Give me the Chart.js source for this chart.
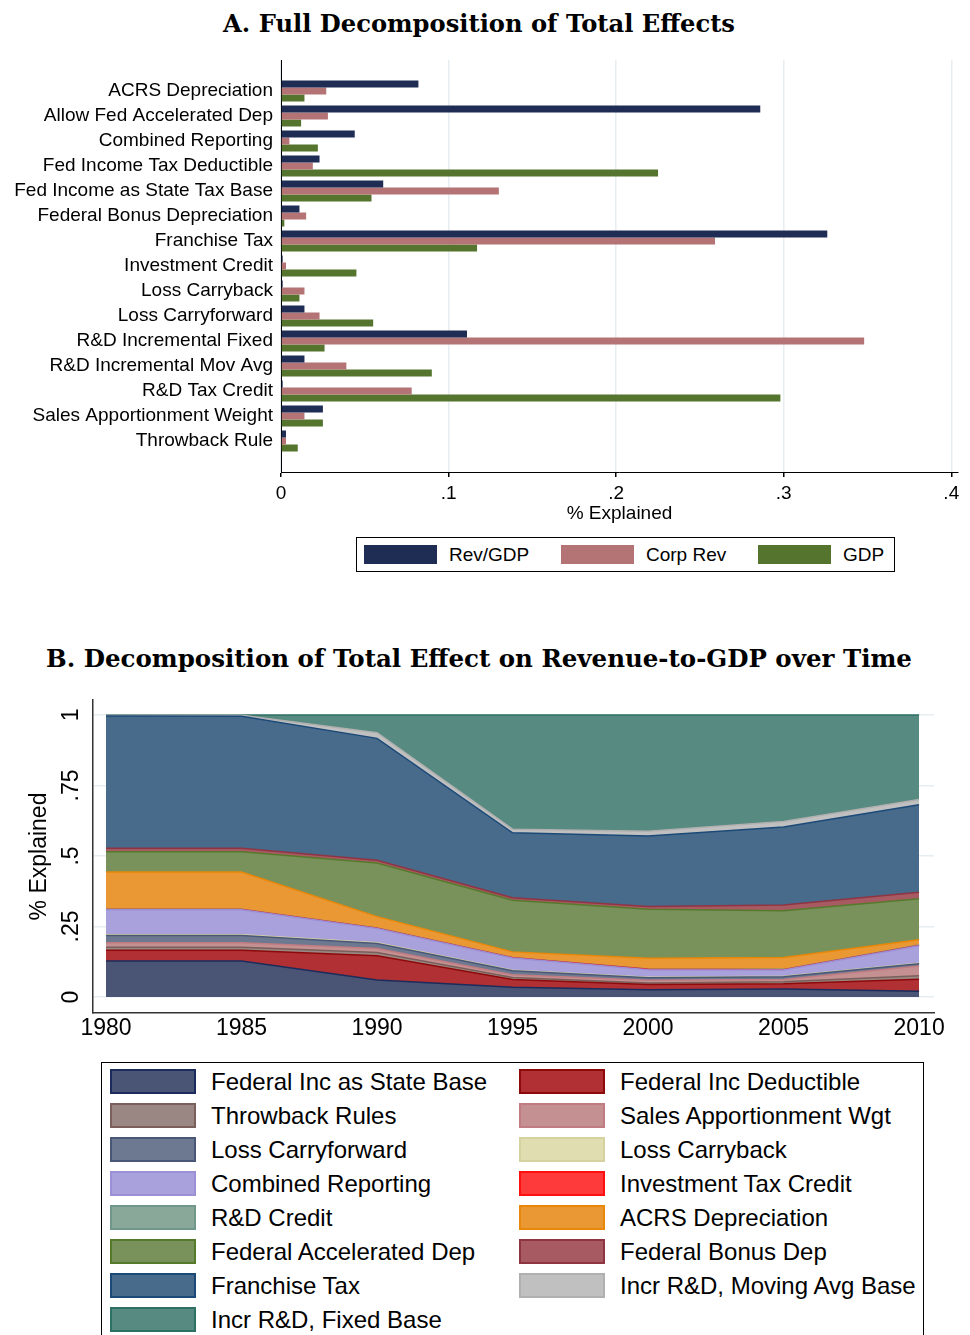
<!DOCTYPE html>
<html>
<head>
<meta charset="utf-8">
<script src="https://cdn.jsdelivr.net/npm/chart.js@4.4.1/dist/chart.umd.min.js"></script>
<style>
  body { margin: 0; width: 970px; height: 1335px; overflow: hidden; background: #fff;
         font-family: "Liberation Sans", Arial, sans-serif; color: #000; }
  .title { position: absolute; left: 0; width: 958px; text-align: center; white-space: nowrap;
           font-family: "DejaVu Serif", serif; font-weight: bold; line-height: 26px; }
  #boxA { position: absolute; left: 0; top: 0; }
  #boxB { position: absolute; left: 0; top: 680px; }
  .legend { position: absolute; border: 1px solid #000; box-sizing: border-box; background: #fff; }
  .item { position: absolute; white-space: nowrap; }
  .swatch { position: absolute; left: 0; box-sizing: border-box; }
  .label { position: absolute; }
</style>
</head>
<body>
<div class="title" id="titleA" style="top:11px">A. Full Decomposition of Total Effects</div>
<div id="boxA"><canvas id="chartA" width="970" height="530"></canvas></div>
<div class="legend" id="legendA" style="left:356px; top:537px; width:539px; height:35px"></div>

<div class="title" id="titleB" style="top:646px">B. Decomposition of Total Effect on Revenue-to-GDP over Time</div>
<div id="boxB"><canvas id="chartB" width="970" height="370"></canvas></div>
<div class="legend" id="legendB" style="left:101px; top:1062px; width:823px; height:320px"></div>

<script>
// ---- Panel A data ----
const effectCategories = ['ACRS Depreciation', 'Allow Fed Accelerated Dep', 'Combined Reporting',
  'Fed Income Tax Deductible', 'Fed Income as State Tax Base', 'Federal Bonus Depreciation',
  'Franchise Tax', 'Investment Credit', 'Loss Carryback', 'Loss Carryforward',
  'R&D Incremental Fixed', 'R&D Incremental Mov Avg', 'R&D Tax Credit',
  'Sales Apportionment Weight', 'Throwback Rule'];
const revGdp   = [0.082, 0.286, 0.044, 0.023, 0.061, 0.011, 0.326, 0.001, 0.001, 0.014, 0.111, 0.014, 0.001, 0.025, 0.003];
const corpRev  = [0.027, 0.028, 0.005, 0.019, 0.130, 0.015, 0.259, 0.003, 0.014, 0.023, 0.348, 0.039, 0.078, 0.014, 0.003];
const gdpShare = [0.014, 0.012, 0.022, 0.225, 0.054, 0.002, 0.117, 0.045, 0.011, 0.055, 0.026, 0.090, 0.298, 0.025, 0.010];
const effectTicks = [0, 0.1, 0.2, 0.3, 0.4];

// ---- Panel B data (share of each component, stacked to 1) ----
const years = [1980, 1985, 1990, 1995, 2000, 2005, 2010];
const fedIncStateBase   = [0.128, 0.128, 0.060, 0.035, 0.026, 0.028, 0.020];
const fedIncDeductible  = [0.038, 0.038, 0.086, 0.027, 0.018, 0.019, 0.043];
const throwbackRules    = [0.010, 0.010, 0.012, 0.007, 0.006, 0.007, 0.012];
const salesApportionWgt = [0.016, 0.016, 0.014, 0.010, 0.009, 0.008, 0.035];
const lossCarryforward  = [0.026, 0.026, 0.018, 0.014, 0.009, 0.010, 0.008];
const lossCarryback     = [0.003, 0.003, 0.002, 0.002, 0.002, 0.002, 0.002];
const combinedReporting = [0.088, 0.088, 0.051, 0.043, 0.027, 0.022, 0.062];
const investTaxCredit   = [0.001, 0.001, 0.001, 0.001, 0.001, 0.001, 0.001];
const rdCredit          = [0.001, 0.001, 0.001, 0.001, 0.001, 0.001, 0.001];
const acrsDepreciation  = [0.132, 0.132, 0.040, 0.020, 0.038, 0.042, 0.019];
const fedAccelDep       = [0.072, 0.072, 0.190, 0.183, 0.174, 0.166, 0.145];
const fedBonusDep       = [0.012, 0.012, 0.010, 0.009, 0.010, 0.020, 0.023];
const franchiseTax      = [0.469, 0.468, 0.432, 0.230, 0.250, 0.277, 0.311];
const incrRdMovAvg      = [0.003, 0.004, 0.020, 0.013, 0.017, 0.019, 0.018];
const incrRdFixed       = [0.001, 0.001, 0.063, 0.405, 0.412, 0.378, 0.300];
const timeTicksY = [0, 0.25, 0.5, 0.75, 1];
const timeTicksX = [1980, 1985, 1990, 1995, 2000, 2005, 2010];

const fmtDec = v => v === 0 ? '0' : String(v).replace(/^0/, '');

// fit serif titles to the width they take in the original
function fitTitle(id, target) {
  const el = document.getElementById(id);
  const c = document.createElement('canvas').getContext('2d');
  c.font = 'bold 20px "DejaVu Serif"';
  const w = c.measureText(el.textContent).width;
  el.style.fontSize = (20 * target / w).toFixed(2) + 'px';
}
fitTitle('titleA', 512);
fitTitle('titleB', 866);

// ---- Panel A: horizontal grouped bars ----
const barSeries = [
  { label: 'Rev/GDP',  data: revGdp,   color: '#1f2d55' },
  { label: 'Corp Rev', data: corpRev,  color: '#b47374' },
  { label: 'GDP',      data: gdpShare, color: '#55742e' }
];

const chartA = new Chart(document.getElementById('chartA'), {
  type: 'bar',
  data: {
    datasets: barSeries.map(s => ({
      label: s.label,
      data: s.data.map((v, i) => ({ x: v, y: i })),
      backgroundColor: s.color,
      borderWidth: 0,
      categoryPercentage: 0.84,
      barPercentage: 1
    }))
  },
  options: {
    indexAxis: 'y',
    responsive: false,
    animation: false,
    layout: { padding: { top: 60, right: 12, left: 0, bottom: 0 } },
    plugins: { legend: { display: false }, tooltip: { enabled: false } },
    scales: {
      y: {
        type: 'linear',
        reverse: true,
        offset: false,
        min: -1.24,
        max: 15.24,
        afterBuildTicks: s => { s.ticks = effectCategories.map((_, i) => ({ value: i })); },
        afterFit: s => { s.width = 281; },
        grid: { display: false, drawTicks: false, offset: false },
        border: { display: true, color: '#000', width: 1 },
        ticks: {
          autoSkip: false, padding: 8, color: '#000',
          font: { family: 'Liberation Sans', size: 19 },
          callback: v => effectCategories[v]
        }
      },
      x: {
        type: 'linear',
        min: 0,
        max: 0.404,
        afterBuildTicks: s => { s.ticks = effectTicks.map(v => ({ value: v })); },
        afterFit: s => { s.height = 58; },
        grid: { color: '#e6eef1', lineWidth: 1.5, drawTicks: true, tickLength: 5, tickColor: '#000' },
        border: { display: true, color: '#000', width: 1 },
        ticks: { padding: 5, color: '#000', font: { family: 'Liberation Sans', size: 19 }, callback: fmtDec },
        title: { display: true, text: '% Explained', color: '#000',
                 font: { family: 'Liberation Sans', size: 19 }, padding: { top: 0, bottom: 5 } }
      }
    }
  }
});

// ---- Panel B: stacked areas ----
const areaSeries = [
  { label: 'Federal Inc as State Base',  data: fedIncStateBase,   fill: '#4a5576', line: '#1b2b5b' },
  { label: 'Federal Inc Deductible',     data: fedIncDeductible,  fill: '#b03034', line: '#8c0a0a' },
  { label: 'Throwback Rules',            data: throwbackRules,    fill: '#9a8783', line: '#7a5f5a' },
  { label: 'Sales Apportionment Wgt',    data: salesApportionWgt, fill: '#c49092', line: '#c07c80' },
  { label: 'Loss Carryforward',          data: lossCarryforward,  fill: '#6d7891', line: '#4a5878' },
  { label: 'Loss Carryback',             data: lossCarryback,     fill: '#e0ddb0', line: '#d6d2a0' },
  { label: 'Combined Reporting',         data: combinedReporting, fill: '#a8a1db', line: '#9b8fd6' },
  { label: 'Investment Tax Credit',      data: investTaxCredit,   fill: '#ff3a3a', line: '#ff1010' },
  { label: 'R&D Credit',                 data: rdCredit,          fill: '#8aa89a', line: '#6f988a' },
  { label: 'ACRS Depreciation',          data: acrsDepreciation,  fill: '#e99834', line: '#e8870a' },
  { label: 'Federal Accelerated Dep',    data: fedAccelDep,       fill: '#79915a', line: '#567a2c' },
  { label: 'Federal Bonus Dep',          data: fedBonusDep,       fill: '#a75a62', line: '#8e3442' },
  { label: 'Franchise Tax',              data: franchiseTax,      fill: '#486b8b', line: '#1c4a78' },
  { label: 'Incr R&D, Moving Avg Base',  data: incrRdMovAvg,      fill: '#c0c0c0', line: '#b0b0b0' },
  { label: 'Incr R&D, Fixed Base',       data: incrRdFixed,       fill: '#578a80', line: '#2f7064' }
];

const chartB = new Chart(document.getElementById('chartB'), {
  type: 'line',
  data: {
    datasets: areaSeries.map((s, k) => ({
      label: s.label,
      data: s.data.map((v, i) => ({ x: years[i], y: v })),
      backgroundColor: s.fill,
      borderColor: s.line,
      borderWidth: 1.5,
      pointRadius: 0,
      tension: 0,
      fill: k === 0 ? 'origin' : '-1'
    }))
  },
  options: {
    responsive: false,
    animation: false,
    layout: { padding: { top: 20, right: 36, left: 0, bottom: 0 } },
    plugins: { legend: { display: false }, tooltip: { enabled: false } },
    scales: {
      x: {
        type: 'linear',
        min: 1979.52,
        max: 2010.55,
        afterBuildTicks: s => { s.ticks = timeTicksX.map(v => ({ value: v })); },
        afterFit: s => { s.height = 37; },
        grid: { display: false, drawTicks: false },
        border: { display: true, color: '#333', width: 1.5 },
        ticks: { padding: 2, color: '#000', font: { family: 'Liberation Sans', size: 23 },
                 callback: v => String(v) }
      },
      y: {
        stacked: true,
        min: -0.0567,
        max: 1.053,
        afterBuildTicks: s => { s.ticks = timeTicksY.map(v => ({ value: v })); },
        afterFit: s => { s.width = 93; },
        grid: { color: '#e6eef1', lineWidth: 1.5, drawTicks: false },
        border: { display: true, color: '#333', width: 1.5 },
        ticks: { padding: 5, minRotation: 90, maxRotation: 90, crossAlign: 'center', color: '#000',
                 font: { family: 'Liberation Sans', size: 23 }, callback: fmtDec },
        title: { display: true, text: '% Explained', color: '#000',
                 font: { family: 'Liberation Sans', size: 23 }, padding: { top: 26, bottom: 0 } }
      }
    }
  }
});

// ---- HTML legends built from the chart datasets ----
function buildLegend(boxId, chart, opt) {
  const box = document.getElementById(boxId);
  chart.data.datasets.forEach((ds, i) => {
    const row = Math.floor(i / opt.cols), col = i % opt.cols;
    const item = document.createElement('div');
    item.className = 'item';
    item.style.left = (opt.x0 + col * opt.colW) + 'px';
    item.style.top = (opt.y0 + row * opt.rowH) + 'px';
    const sw = document.createElement('div');
    sw.className = 'swatch';
    sw.style.top = '0px';
    sw.style.width = opt.swW + 'px';
    sw.style.height = opt.swH + 'px';
    sw.style.background = ds.backgroundColor;
    sw.style.border = opt.border ? ('2px solid ' + ds.borderColor) : 'none';
    const lb = document.createElement('div');
    lb.className = 'label';
    lb.textContent = ds.label;
    lb.style.left = opt.textX + 'px';
    lb.style.top = '0px';
    lb.style.fontSize = opt.font + 'px';
    lb.style.lineHeight = opt.swH + 'px';
    item.appendChild(sw);
    item.appendChild(lb);
    box.appendChild(item);
  });
}
buildLegend('legendA', chartA, { cols: 3, x0: 7, y0: 7, colW: 197, rowH: 0, swW: 73, swH: 19, textX: 85, font: 19, border: false });
buildLegend('legendB', chartB, { cols: 2, x0: 8, y0: 6, colW: 409, rowH: 34, swW: 86, swH: 25, textX: 101, font: 24, border: true });
</script>
</body>
</html>
